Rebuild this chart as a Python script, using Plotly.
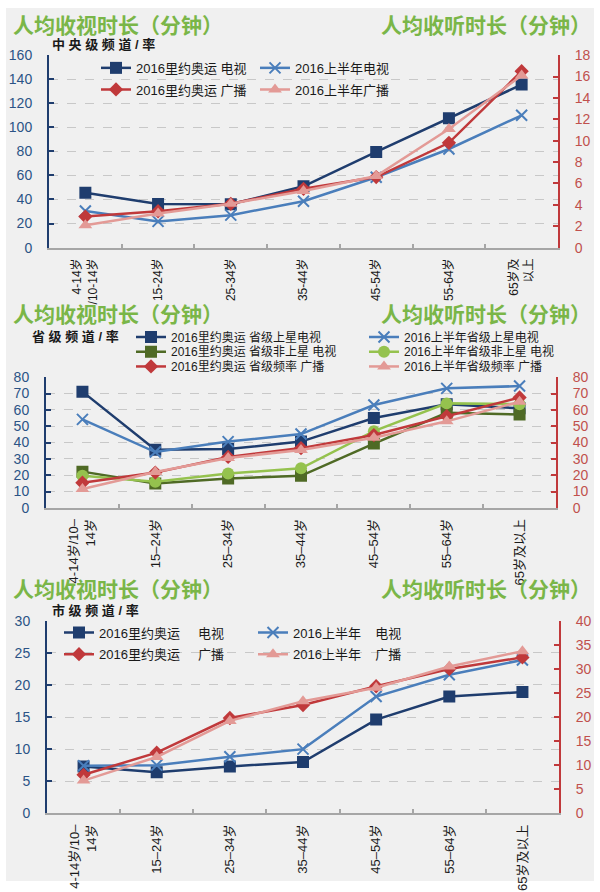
import plotly.graph_objects as go

W, H = 600, 892

# ---- data -------------------------------------------------------------
cats_top = ["4-14岁<br>/10-14岁", "15-24岁", "25-34岁", "35-44岁", "45-54岁", "55-64岁", "65岁及<br>以上"]
cats_low = ["4-14岁/10–<br>14岁", "15–24岁", "25–34岁", "35–44岁", "45–54岁", "55–64岁", "65岁及以上"]

# panel 1: central channels
central_rio_tv = [45.7, 36.2, 36.0, 51.0, 79.5, 107.5, 135.5]
central_h1_tv = [30.5, 21.8, 27.0, 38.6, 58.5, 82.0, 110.0]
central_rio_radio = [2.9, 3.4, 4.1, 5.5, 6.6, 9.8, 16.5]
central_h1_radio = [2.1, 3.2, 4.1, 5.3, 6.7, 11.1, 16.1]

# panel 2: provincial channels
prov_rio_sat = [71.2, 35.6, 36.0, 40.6, 55.0, 63.5, 61.0]
prov_h1_sat = [54.2, 34.2, 40.6, 45.2, 63.0, 73.2, 74.6]
prov_rio_nonsat = [22.2, 15.0, 18.0, 19.6, 39.4, 58.2, 57.2]
prov_h1_nonsat = [19.6, 16.0, 21.0, 24.2, 47.0, 64.0, 63.5]
prov_rio_radio = [15.4, 21.6, 31.2, 36.6, 44.6, 56.2, 67.6]
prov_h1_radio = [11.6, 22.0, 30.6, 35.4, 43.0, 53.0, 65.0]

# panel 3: city channels
city_rio_tv = [7.3, 6.4, 7.3, 8.0, 14.6, 18.2, 18.9]
city_h1_tv = [7.4, 7.5, 8.8, 10.0, 18.2, 21.6, 23.9]
city_rio_radio = [8.0, 12.6, 19.8, 22.5, 26.4, 30.0, 32.4]
city_h1_radio = [6.8, 11.7, 19.2, 23.3, 26.1, 30.5, 33.7]

# ---- styles -----------------------------------------------------------
FONT = "Liberation Sans, Arial, Noto Sans CJK SC, sans-serif"
GREEN_TITLE = "#7ab648"
NAVY = "#1f3d6e"
BLUE = "#4a7ebb"
RED = "#c0393b"
PINK = "#e39a96"
OLIVE = "#4f6a25"
LGREEN = "#95c24e"
LEFT_LBL = "#2b5386"
RIGHT_LBL = "#c0504d"
GRID = "#c8c8c8"


def px(x):
    return x / W


def py(y):
    return 1 - y / H


fig = go.Figure()
legend_layouts = {}
legend_count = [0]


def add_series(x, y, name, color, symbol, size, xa, ya, leg_x, leg_y, font_size, mline=None):
    legend_count[0] += 1
    key = "legend" if legend_count[0] == 1 else f"legend{legend_count[0]}"
    marker = dict(symbol=symbol, size=size, color=color)
    if mline:
        marker["line"] = dict(width=mline, color=color)
    fig.add_trace(go.Scatter(
        x=x, y=y, name=name, mode="lines+markers",
        line=dict(color=color, width=2.5), marker=marker,
        xaxis=xa, yaxis=ya, legend=key,
    ))
    legend_layouts[key] = dict(
        x=px(leg_x), y=py(leg_y), xanchor="left", yanchor="middle",
        bgcolor="rgba(0,0,0,0)", borderwidth=0,
        font=dict(family=FONT, size=font_size, color="#1a1a1a"),
        itemwidth=30, tracegroupgap=0,
    )


# panel 1 (left axis traces first, radio on the overlaid right axis)
add_series(cats_top, central_rio_tv, "2016里约奥运 电视", NAVY, "square", 12, "x", "y", 96, 61, 13)
add_series(cats_top, central_h1_tv, "2016上半年电视", BLUE, "x-thin", 11, "x", "y", 255, 61, 13, mline=2)
add_series(cats_top, central_rio_radio, "2016里约奥运 广播", RED, "diamond", 11, "x", "y2", 96, 83, 13)
add_series(cats_top, central_h1_radio, "2016上半年广播", PINK, "triangle-up", 12, "x", "y2", 255, 83, 13)

# panel 2
add_series(cats_low, prov_rio_sat, "2016里约奥运 省级上星电视", NAVY, "square", 12, "x2", "y3", 131, 335, 12)
add_series(cats_low, prov_h1_sat, "2016上半年省级上星电视", BLUE, "x-thin", 11, "x2", "y3", 364, 335, 12, mline=2)
add_series(cats_low, prov_rio_nonsat, "2016里约奥运 省级非上星 电视", OLIVE, "square", 12, "x2", "y3", 131, 350, 12)
add_series(cats_low, prov_h1_nonsat, "2016上半年省级非上星 电视", LGREEN, "circle", 12, "x2", "y3", 364, 350, 12)
add_series(cats_low, prov_rio_radio, "2016里约奥运 省级频率 广播", RED, "diamond", 11, "x2", "y4", 131, 365, 12)
add_series(cats_low, prov_h1_radio, "2016上半年省级频率 广播", PINK, "triangle-up", 12, "x2", "y4", 364, 365, 12)

# panel 3
add_series(cats_low, city_rio_tv, "2016里约奥运\u00a0\u00a0\u00a0\u00a0 电视", NAVY, "square", 12, "x3", "y5", 59, 636, 13)
add_series(cats_low, city_h1_tv, "2016上半年\u00a0\u00a0\u00a0 电视", BLUE, "x-thin", 11, "x3", "y5", 253, 636, 13, mline=2)
add_series(cats_low, city_rio_radio, "2016里约奥运\u00a0\u00a0\u00a0\u00a0 广播", RED, "diamond", 11, "x3", "y6", 59, 658, 13)
add_series(cats_low, city_h1_radio, "2016上半年\u00a0\u00a0\u00a0 广播", PINK, "triangle-up", 12, "x3", "y6", 253, 658, 13)

fig.update_layout(**legend_layouts)

# ---- axes -------------------------------------------------------------
panels = [
    # (x px range, y px range, left max, left dtick, right max, right dtick, x tick font)
    ((49, 558), (48, 244), 160, 20, 18, 2, 12),
    ((46, 556), (376, 509), 80, 10, 80, 10, 13),
    ((47, 559), (624, 820), 30, 5, 40, 5, 13),
]

for i, ((x0, x1), (y0, y1), lmax, ldt, rmax, rdt, tfs) in enumerate(panels):
    xk = "xaxis" if i == 0 else f"xaxis{i + 1}"
    yl = f"yaxis{2 * i + 1}" if i > 0 else "yaxis"
    yr = f"yaxis{2 * i + 2}"
    xname = "x" if i == 0 else f"x{i + 1}"
    ylname = "y" if i == 0 else f"y{2 * i + 1}"
    dom_y = [py(y1), py(y0)]
    fig.update_layout(**{
        xk: dict(
            domain=[px(x0), px(x1)], anchor=ylname, type="category", range=[-0.5, 6.5],
            showline=True, linecolor="#a6a6a6", linewidth=2, showgrid=False,
            ticks="inside", tickson="boundaries", ticklen=4, tickcolor="#a6a6a6", tickwidth=1.5,
            tickangle=-90, ticklabelstandoff=4,
            tickfont=dict(family=FONT, size=tfs, color="#1a1a1a"), fixedrange=True,
        ),
        yl: dict(
            domain=dom_y, anchor=xname, range=[0, lmax], dtick=ldt,
            showline=True, linecolor=NAVY, linewidth=2,
            ticks="inside", ticklen=5, tickcolor=NAVY, tickwidth=2, ticklabelstandoff=12,
            showgrid=True, gridcolor=GRID, griddash="dash", gridwidth=1, zeroline=False,
            tickfont=dict(family=FONT, size=14, color=LEFT_LBL),
        ),
        yr: dict(
            domain=dom_y, anchor=xname, overlaying=ylname, side="right",
            range=[0, rmax], dtick=rdt,
            showline=True, linecolor=RED, linewidth=2,
            ticks="inside", ticklen=5, tickcolor=RED, tickwidth=2, ticklabelstandoff=12,
            showgrid=False, zeroline=False,
            tickfont=dict(family=FONT, size=14, color=RIGHT_LBL),
        ),
    })

# ---- titles -----------------------------------------------------------
annotations = []
for y_title, sub_text, sub_x, sub_y in [
    (18, "中 央 级 频 道 / 率", 50, 37),
    (312, "省 级 频 道 / 率", 30, 334),
    (592, "市 级 频 道 / 率", 50, 613),
]:
    annotations.append(dict(
        text="<b>人均收视时长（分钟）</b>", x=px(11), y=py(y_title), xref="paper", yref="paper",
        xanchor="left", yanchor="middle", showarrow=False,
        font=dict(family=FONT, size=21, color=GREEN_TITLE),
    ))
    annotations.append(dict(
        text="<b>人均收听时长（分钟）</b>", x=px(593), y=py(y_title), xref="paper", yref="paper",
        xanchor="right", yanchor="middle", showarrow=False,
        font=dict(family=FONT, size=21, color=GREEN_TITLE),
    ))
    annotations.append(dict(
        text=f"<b>{sub_text}</b>", x=px(sub_x), y=py(sub_y), xref="paper", yref="paper",
        xanchor="left", yanchor="middle", showarrow=False,
        font=dict(family=FONT, size=13, color="#1a1a1a"),
    ))

fig.update_layout(
    width=W, height=H,
    margin=dict(l=0, r=0, t=0, b=0),
    paper_bgcolor="white",
    plot_bgcolor="rgba(0,0,0,0)",
    showlegend=True,
    annotations=annotations,
    shapes=[dict(
        type="rect", xref="paper", yref="paper", x0=px(6), x1=px(594), y0=py(889), y1=1,
        fillcolor="#f0f0f0", line=dict(width=0), layer="below",
    )],
    font=dict(family=FONT),
)

# drop the browser's default body margin so the figure sits at the page origin
fig.write_html(
    "out.html",
    config={"displayModeBar": False},
    post_script="document.body.style.margin='0px';",
)
